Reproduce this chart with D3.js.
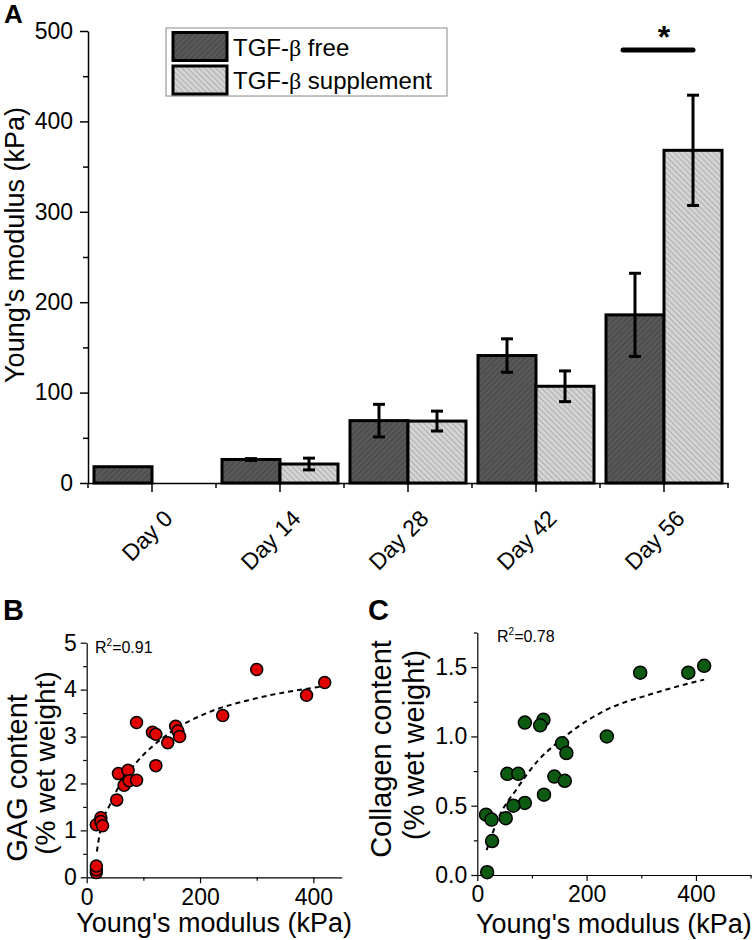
<!DOCTYPE html>
<html><head><meta charset="utf-8">
<script src="https://cdn.jsdelivr.net/npm/d3@7"></script>
<style>
body{margin:0;background:#fff}
svg{display:block}
text{font-family:"Liberation Sans",Arial,sans-serif;fill:#000}
</style>
</head><body>
<svg id="c" width="756" height="940"></svg>
<script>
// ---------- data ----------
const days = ["Day 0", "Day 14", "Day 28", "Day 42", "Day 56"];
const seriesNames = ["TGF-\u03b2 free", "TGF-\u03b2 supplement"];
const freeMean = [18, 26, 69, 141, 186];
const freeErr  = [0, 1, 18, 18.5, 46];
const suppMean = [null, 21, 68.5, 107, 368];
const suppErr  = [null, 6.5, 11, 17, 61];
const yTicksA = [0, 100, 200, 300, 400, 500];
const yMinorA = [50, 150, 250, 350, 450];

const gagPoints = [[17,0.1],[17,0.16],[17,0.24],[17,1.12],[25,1.27],[25,1.19],[28,1.1],[53,1.65],[56,2.21],[66,1.96],[73,2.28],[75,2.06],[88,2.07],[88,3.30],[116,3.09],[122,3.05],[122,2.38],[143,2.87],[157,3.22],[161,3.12],[164,3.0],[240,3.45],[300,4.43],[388,3.88],[420,4.15]];
const gagFit = [[18,0.55],[24,1.0],[41,1.55],[60,2.0],[88,2.45],[143,3.05],[212,3.5],[294,3.8],[412,4.06]];
const gagR2 = "0.91";
const xTicksB = [0, 200, 400], xMinorB = [100, 300];
const yTicksB = [0, 1, 2, 3, 4, 5], yMinorB = [0.5, 1.5, 2.5, 3.5, 4.5];

const colPoints = [[415,1.51],[386,1.46],[298,1.46],[237,1.0],[121,1.12],[115,1.08],[87,1.10],[155,0.95],[163,0.88],[141,0.71],[160,0.68],[122,0.58],[55,0.73],[75,0.73],[87,0.52],[66,0.5],[52,0.41],[16,0.435],[26,0.4],[27,0.245],[18,0.02]];
const colFit = [[17,0.18],[41,0.43],[72,0.62],[112,0.83],[145,0.95],[230,1.18],[322,1.31],[415,1.41]];
const colR2 = "0.78";
const xTicksC = [0, 200, 400], xMinorC = [100, 300, 500];
const yTicksC = [0, 0.5, 1.0, 1.5], yMinorC = [0.25, 0.75, 1.25, 1.75];

// ---------- drawing ----------
const svg = d3.select("#c");
const defs = svg.append("defs");
function hatch(id, bg, fg, angle) {
  const p = defs.append("pattern").attr("id", id).attr("patternUnits", "userSpaceOnUse")
    .attr("width", 4).attr("height", 4).attr("patternTransform", `rotate(${angle})`);
  p.append("rect").attr("width", 4).attr("height", 4).attr("fill", bg);
  p.append("line").attr("x1", 0).attr("y1", 0).attr("x2", 0).attr("y2", 4)
    .attr("stroke", fg).attr("stroke-width", 1.1);
}
hatch("pFree", "#585858", "#363636", 45);
hatch("pSupp", "#d4d4d4", "#8e8e8e", -45);
const fills = ["url(#pFree)", "url(#pSupp)"];

// Panel A
const xA = d3.scaleBand().domain(days).range([88, 728]).paddingInner(0.09375).paddingOuter(0.046875);
const xSub = d3.scaleBand().domain([0, 1]).range([0, xA.bandwidth()]);
const yA = d3.scaleLinear().domain([0, 500]).range([483, 31]);
const gA = svg.append("g");

const barData = [];
days.forEach((d, i) => {
  if (freeMean[i] != null) barData.push({d, s: 0, v: freeMean[i], e: freeErr[i]});
  if (suppMean[i] != null) barData.push({d, s: 1, v: suppMean[i], e: suppErr[i]});
});
gA.selectAll("rect.bar").data(barData).join("rect").attr("class", "bar")
  .attr("x", b => xA(b.d) + xSub(b.s)).attr("y", b => yA(b.v))
  .attr("width", xSub.bandwidth()).attr("height", b => yA(0) - yA(b.v))
  .attr("fill", b => fills[b.s]).attr("stroke", "#000").attr("stroke-width", 3);

const errG = gA.append("g").attr("stroke", "#000").attr("stroke-width", 3);
barData.filter(b => b.e > 0).forEach(b => {
  const cx = xA(b.d) + xSub(b.s) + xSub.bandwidth() / 2;
  errG.append("line").attr("x1", cx).attr("x2", cx).attr("y1", yA(b.v - b.e)).attr("y2", yA(b.v + b.e));
  [b.v - b.e, b.v + b.e].forEach(v => errG.append("line").attr("x1", cx - 6).attr("x2", cx + 6).attr("y1", yA(v)).attr("y2", yA(v)));
});

// y axis A
const yAxA = gA.append("g").attr("transform", "translate(88,0)")
  .call(d3.axisLeft(yA).tickValues(yTicksA).tickSize(8).tickSizeOuter(0).tickPadding(7));
yAxA.selectAll("text").style("font-size", "23px").style("font-family", '"Liberation Sans",Arial,sans-serif');
const yMinA = gA.append("g").attr("transform", "translate(88,0)")
  .call(d3.axisLeft(yA).tickValues(yMinorA).tickSize(5).tickFormat(""));
yMinA.select(".domain").remove();
gA.selectAll(".domain, .tick line").attr("stroke", "#000").attr("stroke-width", 1.5);

// x axis A
const xAxA = gA.append("g").attr("transform", "translate(0,483)")
  .call(d3.axisBottom(xA).tickSize(9).tickSizeOuter(0).tickFormat(""));
xAxA.selectAll(".domain, .tick line").attr("stroke", "#000").attr("stroke-width", 1.5);
const bounds = d3.range(days.length + 1).map(i => xA.range()[0] + i * xA.step());
gA.append("g").selectAll("line").data(bounds).join("line")
  .attr("x1", d => d).attr("x2", d => d).attr("y1", 483).attr("y2", 488)
  .attr("stroke", "#000").attr("stroke-width", 1.5);
gA.append("g").selectAll("text").data(days).join("text")
  .attr("transform", d => `translate(${xA(d) + xA.bandwidth() / 2 + 22},520) rotate(-45)`)
  .attr("text-anchor", "end").style("font-size", "23px").text(d => d);

gA.append("text").attr("transform", "translate(24,245) rotate(-90)").attr("text-anchor", "middle")
  .style("font-size", "27px").text("Young's modulus (kPa)");

// legend
const lg = gA.append("g");
lg.append("rect").attr("x", 166).attr("y", 28).attr("width", 281).attr("height", 68)
  .attr("fill", "#fff").attr("stroke", "#888").attr("stroke-width", 1);
seriesNames.forEach((n, i) => {
  const y0 = 32.5 + i * 33.5;
  lg.append("rect").attr("x", 173).attr("y", y0).attr("width", 54).attr("height", 28)
    .attr("fill", fills[i]).attr("stroke", "#000").attr("stroke-width", 3);
  const t = lg.append("text").attr("x", 233).attr("y", y0 + 23).style("font-size", "24px");
  const parts = n.split("\u03b2");
  t.append("tspan").text(parts[0]);
  t.append("tspan").style("font-family", '"Liberation Serif","Times New Roman",serif').text("\u03b2");
  t.append("tspan").text(parts[1]);
});

// significance
const c56 = xA("Day 56");
const bw = xSub.bandwidth();
gA.append("line").attr("x1", c56 + bw / 2 - 12).attr("x2", c56 + bw + bw / 2)
  .attr("y1", 50).attr("y2", 50).attr("stroke", "#000").attr("stroke-width", 5).attr("stroke-linecap", "round");
gA.append("text").attr("x", c56 + bw).attr("y", 48).attr("text-anchor", "middle")
  .style("font-size", "32px").style("font-weight", "bold").text("*");

gA.append("text").attr("x", 4).attr("y", 23).style("font-size", "26px").style("font-weight", "bold").text("A");

// scatter panels
function scatter(opt) {
  const g = svg.append("g");
  const x = d3.scaleLinear().domain(opt.xDom).range(opt.xRange);
  const y = d3.scaleLinear().domain(opt.yDom).range(opt.yRange);
  const y0 = opt.yRange[0], x0 = opt.xRange[0];
  g.append("g").attr("transform", `translate(0,${y0})`)
    .call(d3.axisBottom(x).tickValues(opt.xTicks).tickSize(6).tickSizeOuter(0).tickPadding(5));
  const axm = g.append("g").attr("transform", `translate(0,${y0})`)
    .call(d3.axisBottom(x).tickValues(opt.xMinor).tickSize(3.5).tickFormat(""));
  axm.select(".domain").remove();
  g.append("g").attr("transform", `translate(${x0},0)`)
    .call(d3.axisLeft(y).tickValues(opt.yTicks).tickSize(6).tickSizeOuter(0).tickPadding(4).tickFormat(opt.yFmt));
  const aym = g.append("g").attr("transform", `translate(${x0},0)`)
    .call(d3.axisLeft(y).tickValues(opt.yMinor).tickSize(3.5).tickFormat(""));
  aym.select(".domain").remove();
  g.selectAll(".domain, .tick line").attr("stroke", "#000").attr("stroke-width", 1.2);
  g.selectAll(".tick text").style("font-size", "23px").style("font-family", '"Liberation Sans",Arial,sans-serif');

  g.append("path").datum(opt.fit)
    .attr("d", d3.line().x(d => x(d[0])).y(d => y(d[1])).curve(d3.curveMonotoneX))
    .attr("fill", "none").attr("stroke", "#000").attr("stroke-width", 2).attr("stroke-dasharray", "5,4");
  g.append("g").selectAll("circle").data(opt.points).join("circle")
    .attr("cx", d => x(d[0])).attr("cy", d => y(d[1])).attr("r", opt.r)
    .attr("fill", opt.color).attr("stroke", "#000").attr("stroke-width", 1.5);

  const r2 = g.append("text").attr("x", opt.r2pos[0]).attr("y", opt.r2pos[1]).style("font-size", "16px");
  r2.append("tspan").text("R");
  r2.append("tspan").attr("dy", -7).style("font-size", "10px").text("2");
  r2.append("tspan").attr("dy", 7).text("=" + opt.r2);

  opt.ytitle.forEach((t, i) => {
    g.append("text").attr("transform", `translate(${opt.ytitleX[i]},${opt.ytitleY[i]}) rotate(-90)`)
      .attr("text-anchor", "middle").style("font-size", opt.ytitleSize[i] + "px").text(t);
  });
  g.append("text").attr("x", (opt.xRange[0] + opt.xRange[1]) / 2).attr("y", opt.xtitleY)
    .attr("text-anchor", "middle").style("font-size", "27px").text("Young's modulus (kPa)");
  g.append("text").attr("x", opt.letter[1]).attr("y", 620).style("font-size", "29px")
    .style("font-weight", "bold").text(opt.letter[0]);
}

scatter({
  xDom: [0, 450], xRange: [86.7, 341.7], yDom: [0, 5], yRange: [877.3, 642.7],
  xTicks: xTicksB, xMinor: xMinorB, yTicks: yTicksB, yMinor: yMinorB, yFmt: d3.format("d"),
  points: gagPoints, fit: gagFit, color: "#e00000", r: 6, r2: gagR2, r2pos: [95, 653],
  ytitle: ["GAG content", "(% wet weight)"], ytitleX: [27, 55], ytitleY: [778, 763], ytitleSize: [29, 28],
  xtitleY: 932, letter: ["B", 3]
});
scatter({
  xDom: [0, 500], xRange: [477.3, 750.6], yDom: [0, 1.75], yRange: [875, 632.5],
  xTicks: xTicksC, xMinor: xMinorC, yTicks: yTicksC, yMinor: yMinorC, yFmt: d3.format(".1f"),
  points: colPoints, fit: colFit, color: "#0d5a12", r: 6.5, r2: colR2, r2pos: [497, 642],
  ytitle: ["Collagen content", "(% wet weight)"], ytitleX: [391, 424], ytitleY: [749, 745], ytitleSize: [29, 29],
  xtitleY: 933, letter: ["C", 368]
});
</script>
</body></html>
